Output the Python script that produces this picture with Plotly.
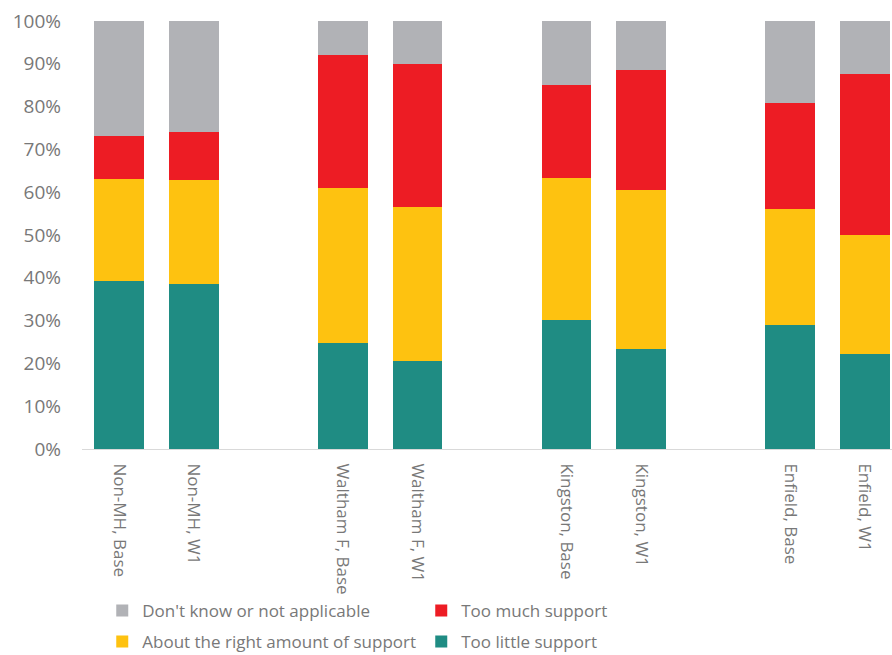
import plotly.graph_objects as go

categories = ["Non-MH, Base", "Non-MH, W1", " ", "Waltham F, Base", "Waltham F, W1", "  ",
              "Kingston, Base", "Kingston, W1", "   ", "Enfield, Base", "Enfield, W1"]

too_little = [39.3, 38.6, None, 24.8, 20.6, None, 30.1, 23.3, None, 29.0, 22.2]
right_amount_top = [63.0, 62.9, None, 60.9, 56.6, None, 63.4, 60.4, None, 56.1, 49.9]
too_much_top = [73.1, 74.1, None, 92.1, 90.0, None, 85.1, 88.6, None, 80.9, 87.7]

def diff(a, b):
    return [None if (x is None or y is None) else round(x - y, 1) for x, y in zip(a, b)]

right_amount = diff(right_amount_top, too_little)
too_much = diff(too_much_top, right_amount_top)
dont_know = [None if t is None else round(100 - t, 1) for t in too_much_top]

# name, values, colour, legend (row), rank
series = [
    ("Too little support", too_little, "#1f8c83", "legend2", 2),
    ("About the right amount of support", right_amount, "#fec210", "legend2", 1),
    ("Too much support", too_much, "#ed1c24", "legend", 2),
    ("Don't know or not applicable", dont_know, "#b1b2b6", "legend", 1),
]

FONT = "Open Sans"
GREY = "#787878"
H = 655

fig = go.Figure()
for name, vals, color, leg, rank in series:
    fig.add_trace(go.Bar(
        x=categories, y=vals, name=name, marker_color=color,
        marker_line_width=0, legend=leg, legendrank=rank,
    ))

leg_common = dict(
    orientation="h", xref="container", x=(82 + 0.025 * 810) / 892, xanchor="left",
    yref="container", yanchor="middle",
    entrywidth=274, entrywidthmode="pixels", traceorder="normal",
    font=dict(family=FONT, size=17, color=GREY),
    itemclick=False, bgcolor="rgba(0,0,0,0)",
)

fig.update_layout(
    barmode="stack",
    bargap=0.333,
    width=892, height=H,
    margin=dict(l=82, r=0, t=21, b=206, autoexpand=False),
    paper_bgcolor="white", plot_bgcolor="white",
    font=dict(family=FONT, size=17, color=GREY),
    showlegend=True,
    legend=dict(leg_common, y=(H - 611) / H),
    legend2=dict(leg_common, y=(H - 642) / H),
)
fig.update_xaxes(
    type="category", range=[-0.5, 10.364], automargin=False,
    tickangle=90, showgrid=False, showline=True, linecolor="#d9d9d9", linewidth=1,
    ticks="", ticklabelstandoff=10,
    tickfont=dict(family=FONT, size=17, color=GREY),
)
fig.update_yaxes(
    range=[0, 100], automargin=False,
    tickvals=[0, 10, 20, 30, 40, 50, 60, 70, 80, 90, 100],
    ticktext=["0%", "10%", "20%", "30%", "40%", "50%", "60%", "70%", "80%", "90%", "100%"],
    showgrid=False, showline=False, zeroline=False, ticks="",
    ticklabelstandoff=20,
    tickfont=dict(family=FONT, size=19, color=GREY),
)

fig.write_html("out.html")
